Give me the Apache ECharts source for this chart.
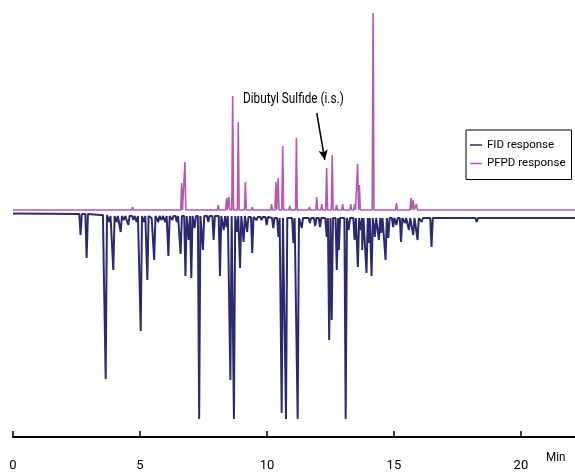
<!DOCTYPE html>
<html>
<head>
<meta charset="utf-8">
<script src="https://cdn.jsdelivr.net/npm/echarts@6/dist/echarts.min.js"></script>
<style>
  html, body { margin: 0; padding: 0; background: #fff; }
  #chart { width: 575px; height: 473px; }
</style>
</head>
<body>
<div id="chart"></div>
<script>
// Retention time axis (min)
const timeTicks = [0, 5, 10, 15, 20];
const runEnd = 22.13;

// FID trace: peak retention times (min), apex response, local baseline under each peak
const fidTime = [2.66, 2.90, 3.49, 3.65, 3.79, 3.95, 4.08, 4.24, 4.37, 4.54, 4.74, 4.87, 5.03, 5.16, 5.29, 5.46, 5.56, 5.72, 5.85, 6.00,
  6.12, 6.27, 6.45, 6.60, 6.79, 6.92, 7.02, 7.15, 7.33, 7.48, 7.69, 7.90, 8.15, 8.30, 8.41, 8.56, 8.70, 8.82, 8.94, 9.08,
  9.22, 9.42, 9.59, 9.79, 9.99, 10.25, 10.45, 10.58, 10.75, 11.04, 11.21, 11.37, 11.69, 11.90, 12.09, 12.35, 12.45, 12.55, 12.75, 12.83,
  13.10, 13.22, 13.45, 13.58, 13.70, 13.75, 13.92, 14.00, 14.12, 14.25, 14.41, 14.50, 14.67, 14.78, 14.97, 15.10, 15.28, 15.43, 15.59, 15.76,
  15.93, 16.09, 16.29, 16.48, 16.74, 18.26, 19.83];
const fidApex = [-25, -48, -7, -169, -12, -60, -12, -22, -10, -15, -10, -12, -121, -12, -70, -8, -50, -12, -10, -12,
  -46, -10, -12, -44, -66, -30, -68, -18, -209, -40, -12, -30, -66, -20, -17, -170, -209, -22, -58, -32,
  -22, -43, -10, -10, -15, -18, -27, -203, -209, -33, -209, -18, -13, -16, -17, -27, -130, -110, -60, -40,
  -209, -20, -30, -57, -20, -40, -63, -33, -66, -27, -30, -23, -50, -28, -17, -15, -32, -13, -20, -25,
  -30, -12, -10, -37, -10, -12, -10];
const fidBase = [-4, -4, -5, -5, -6, -6, -6, -6, -6, -6, -6, -6, -6, -6, -6, -6, -6, -6, -6, -6,
  -6, -6, -6, -6, -6, -6, -6, -6, -6, -6, -6, -6, -6, -6, -6, -6, -6, -6, -6, -6,
  -7, -7, -7, -7, -7, -8, -8, -8, -8, -8, -8, -8, -8, -8, -8, -8, -8, -8, -8, -8,
  -8, -8, -8, -8, -8, -8, -8, -8, -8, -8, -8, -8, -8, -8, -8, -8, -8, -8, -8, -8,
  -8, -8, -8, -8, -8, -8, -8];
const fidStart = [0, -3.5];
const fidEnd = [runEnd, -8];

// PFPD (sulfur) trace: peak retention times (min) and apex response
const pfpdTime = [1.33, 2.31, 4.71, 5.31, 6.64, 6.77, 7.23, 8.08, 8.41, 8.50, 8.65, 8.87, 9.15, 9.42, 10.18, 10.35, 10.44, 10.62, 10.90, 11.16,
  11.67, 11.96, 12.16, 12.35, 12.57, 12.74, 12.98, 13.30, 13.45, 13.57, 13.64, 14.18, 15.10, 15.67, 15.76, 15.89];
const pfpdApex = [1.5, 2, 3, 2, 27, 48, 2, 5, 12, 13, 114, 88, 28, 3, 6, 28, 32, 64, 4, 72,
  3, 13, 6, 42, 55, 5, 6, 6, 6, 46, 25, 197, 7, 12, 10, 6];
const pfpdBaseline = 0;

// Internal standard callout: arrow tail and head in (min, response)
const isArrowFrom = [11.96, 97];
const isArrowTo = [12.28, 50];

const FONT = "Roboto, 'Liberation Sans', sans-serif";
const FID_COLOR = '#2c2a6e';
const PFPD_COLOR = '#b559ad';

// Turn a list of peaks into a polyline: baseline -> apex -> baseline for each peak
function trace(times, apex, base, halfWidth, start, end) {
  const pts = [start];
  for (let i = 0; i < times.length; i++) {
    const b = Array.isArray(base) ? base[i] : base;
    pts.push([times[i] - halfWidth, b]);
    pts.push([times[i], apex[i]]);
    pts.push([times[i] + halfWidth, b]);
  }
  pts.push(end);
  return pts;
}

const fidData = trace(fidTime, fidApex, fidBase, 0.05, fidStart, fidEnd);
const pfpdData = trace(pfpdTime, pfpdApex, pfpdBaseline, 0.035, [0, pfpdBaseline], [runEnd, pfpdBaseline]);

const chart = echarts.init(document.getElementById('chart'), null, { renderer: 'canvas' });
chart.setOption({
  animation: false,
  backgroundColor: '#ffffff',
  grid: { left: 13, right: 0, top: 0, bottom: 36, containLabel: false },
  xAxis: {
    type: 'value',
    min: timeTicks[0],
    max: runEnd,
    interval: timeTicks[1] - timeTicks[0],
    axisLine: { onZero: false, lineStyle: { color: '#000', width: 2 } },
    axisTick: { show: true, inside: true, length: 6, lineStyle: { color: '#000', width: 1.5 } },
    axisLabel: {
      showMaxLabel: false,
      margin: 22,
      color: '#000',
      fontSize: 13,
      fontFamily: FONT,
      formatter: v => (timeTicks.indexOf(v) >= 0 ? String(v) : '')
    },
    splitLine: { show: false }
  },
  yAxis: { type: 'value', min: -227, max: 210, show: false, splitLine: { show: false } },
  legend: {
    orient: 'vertical',
    left: 466,
    top: 130,
    icon: 'rect',
    itemWidth: 12,
    itemHeight: 1.5,
    itemGap: 6.5,
    padding: [9, 6, 10, 4],
    borderColor: '#000',
    borderWidth: 1,
    textStyle: { color: '#000', fontSize: 11.5, fontFamily: FONT, width: 76, overflow: 'none' },
    data: ['FID response', 'PFPD response']
  },
  graphic: [
    { type: 'text', x: 243, y: 92, scaleX: 0.84, style: { text: 'Dibutyl Sulfide (i.s.)', fill: '#000', font: '14px ' + FONT } },
    { type: 'text', x: 546, y: 451, scaleX: 0.9, style: { text: 'Min', fill: '#000', font: '13px ' + FONT } }
  ],
  series: [
    {
      name: 'FID response',
      type: 'line',
      data: fidData,
      showSymbol: false,
      symbol: 'none',
      lineStyle: { color: FID_COLOR, width: 2 },
      itemStyle: { color: FID_COLOR },
      z: 2
    },
    {
      name: 'PFPD response',
      type: 'line',
      data: pfpdData,
      showSymbol: false,
      symbol: 'none',
      lineStyle: { color: PFPD_COLOR, width: 1.6 },
      itemStyle: { color: PFPD_COLOR },
      z: 3,
      markLine: {
        silent: true,
        symbol: ['none', 'arrow'],
        symbolSize: [7, 10],
        label: { show: false },
        lineStyle: { color: '#000', width: 1.5, type: 'solid' },
        data: [[{ coord: isArrowFrom }, { coord: isArrowTo }]]
      }
    }
  ]
});
</script>
</body>
</html>
